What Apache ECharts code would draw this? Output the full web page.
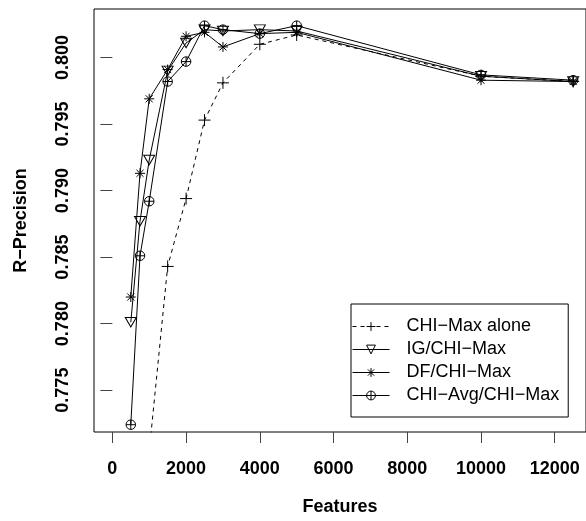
<!DOCTYPE html>
<html>
<head>
<meta charset="utf-8">
<script src="https://cdn.jsdelivr.net/npm/echarts@6/dist/echarts.min.js"></script>
<style>
  html, body { margin: 0; padding: 0; background: #fff; }
  #chart { width: 586px; height: 521px; }
</style>
</head>
<body>
<div id="chart"></div>
<script>
// R-Precision vs number of features, four selection schemes
const featuresChi = [1000, 1500, 2000, 2500, 3000, 4000, 5000, 10000, 12500]
const chiMaxAlone = [0.7704, 0.7843, 0.7894, 0.7953, 0.7981, 0.8010, 0.8017, 0.7986, 0.7982]

const features = [500, 750, 1000, 1500, 2000, 2500, 3000, 4000, 5000, 10000, 12500]
const igChiMax = [0.7801, 0.7877, 0.7923, 0.7990, 0.8011, 0.8021, 0.8020, 0.8021, 0.8020, 0.7986, 0.7982]
const dfChiMax = [0.7820, 0.7913, 0.7969, 0.7991, 0.8016, 0.8019, 0.8008, 0.8018, 0.8019, 0.7983, 0.7982]
const avgChiMax = [0.7724, 0.7851, 0.7892, 0.7982, 0.7997, 0.8024, 0.8021, 0.8018, 0.8024, 0.7987, 0.7983]

const xTicks = [0, 2000, 4000, 6000, 8000, 10000, 12000]
const yTicks = [0.775, 0.780, 0.785, 0.790, 0.795, 0.800]

const seriesNames = ['CHI\u2212Max alone', 'IG/CHI\u2212Max', 'DF/CHI\u2212Max', 'CHI\u2212Avg/CHI\u2212Max']

const FONT = '"Liberation Sans", Arial, sans-serif'

// pch-like open symbols
const SYM_PLUS = 'path://M0,5L10,5M5,0L5,10'
const SYM_TRI = 'path://M0,0L10,0L5,8.66Z'
const SYM_STAR = 'path://M5,0L5,10M0,5L10,5M1.46,1.46L8.54,8.54M1.46,8.54L8.54,1.46'
const SYM_OPLUS = 'path://M0,5A5,5 0 1 1 10,5A5,5 0 1 1 0,5ZM0,5L10,5M5,0L5,10'

const pairs = (xs, ys) => xs.map((x, i) => [x, ys[i]])

const mk = (name, xs, ys, symbol, size, dashed) => ({
  name, type: 'line', data: pairs(xs, ys),
  symbol, symbolSize: size, showAllSymbol: true,
  clip: true,
  lineStyle: { color: '#000', width: 1, type: dashed ? [4, 4] : 'solid' },
  itemStyle: { color: 'rgba(0,0,0,0)', borderColor: '#000', borderWidth: 1 },
  emphasis: { disabled: true },
  animation: false,
})

const chart = echarts.init(document.getElementById('chart'), null, { renderer: 'canvas' })

chart.setOption({
  backgroundColor: '#fff',
  animation: false,
  grid: { left: 94, right: -1, top: 9, bottom: 88, show: true, borderColor: '#000', borderWidth: 1, backgroundColor: 'transparent' },
  xAxis: {
    type: 'value', min: -498, max: 12848,
    name: 'Features', nameLocation: 'middle', nameGap: 66,
    nameTextStyle: { fontFamily: FONT, fontWeight: 'bold', fontSize: 18, color: '#000' },
    axisLine: { show: false },
    axisTick: { show: true, inside: false, length: 11, customValues: xTicks, lineStyle: { color: '#444' } },
    axisLabel: {
      customValues: xTicks, margin: 28, formatter: v => String(v),
      fontFamily: FONT, fontWeight: 'bold', fontSize: 18, color: '#000',
    },
    splitLine: { show: false },
  },
  yAxis: {
    type: 'value', min: 0.771852, max: 0.803653,
    name: 'R\u2212Precision', nameLocation: 'middle', nameGap: 64,
    nameTextStyle: { fontFamily: FONT, fontWeight: 'bold', fontSize: 18, color: '#000' },
    axisLine: { show: false },
    axisTick: { show: true, inside: false, length: 12, customValues: yTicks, lineStyle: { color: '#444' } },
    axisLabel: {
      customValues: yTicks, rotate: 90, margin: 22,
      formatter: v => v.toFixed(3),
      fontFamily: FONT, fontWeight: 'bold', fontSize: 18, color: '#000',
    },
    splitLine: { show: false },
  },
  legend: {
    data: seriesNames,
    orient: 'vertical', left: 351, top: 304,
    padding: [11, 9, 10, 1],
    itemGap: 0, itemWidth: 37, itemHeight: 11,
    borderColor: '#000', borderWidth: 1, backgroundColor: '#fff',
    selectedMode: false,
    lineStyle: { width: 1 },
    itemStyle: { borderWidth: 1 },
    textStyle: { fontFamily: FONT, fontSize: 18, color: '#000', lineHeight: 23, padding: [0, 0, 0, 12] },
  },
  series: [
    mk(seriesNames[0], featuresChi, chiMaxAlone, SYM_PLUS, 12, true),
    mk(seriesNames[1], features, igChiMax, SYM_TRI, [11, 9.5], false),
    mk(seriesNames[2], features, dfChiMax, SYM_STAR, 10, false),
    mk(seriesNames[3], features, avgChiMax, SYM_OPLUS, 9.5, false),
  ],
})
</script>
</body>
</html>
